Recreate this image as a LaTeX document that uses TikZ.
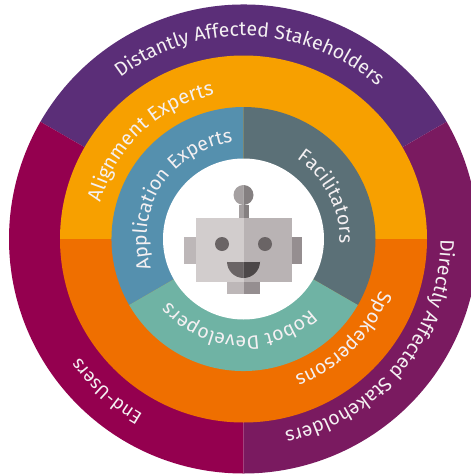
\documentclass[tikz,border=0pt]{standalone}
\usepackage{fontspec}
\setmainfont{Fira Sans}
\usetikzlibrary{decorations.text}
\definecolor{cpurple}{HTML}{5B2E78}
\definecolor{cmaroon}{HTML}{94004F}
\definecolor{cmagenta}{HTML}{7A1A60}
\definecolor{camber}{HTML}{F7A000}
\definecolor{corange}{HTML}{EF6F00}
\definecolor{cblue}{HTML}{5590AE}
\definecolor{cslate}{HTML}{5B7077}
\definecolor{cteal}{HTML}{6FB3A4}
\definecolor{ctext}{HTML}{F4F0F2}
\definecolor{rlight}{HTML}{D2CDCD}
\definecolor{rdark}{HTML}{B9B3B4}
\definecolor{rearl}{HTML}{BDB7B8}
\definecolor{reard}{HTML}{958E90}
\definecolor{rball}{HTML}{A5A0A1}
\definecolor{rballd}{HTML}{858081}
\definecolor{rface}{HTML}{6A6465}
\definecolor{rfaced}{HTML}{4C4748}
\newcommand{\sector}[4]{\fill[#1] (c) -- ++(#2:#4) arc (#2:#3:#4) -- cycle;}
% radius, centre angle, half span, text, size
\newcommand{\arclabel}[5]{\path[decorate,decoration={text along path,text align=center,
  text={|\fontsize{#5}{#5}\selectfont\color{ctext}|#4}}]
  (c) ++({#2-#3}:#1) arc ({#2-#3}:{#2+#3}:#1);}
\begin{document}
\begin{tikzpicture}[x=1pt,y=1pt,yscale=-1]
\useasboundingbox (0,0) rectangle (471,474);
\fill[white] (0,0) rectangle (471,474);
\clip (0,0) rectangle (471,474);
\coordinate (c) at (243.5,239);
% outer ring (y axis points down: angles are negated)
\sector{cpurple}{-150}{-30}{234.5}
\sector{cmaroon}{-270}{-150}{234.5}
\sector{cmagenta}{-30}{90}{234.5}
% middle ring
\sector{camber}{-180}{0}{183.5}
\sector{corange}{0}{180}{183.5}
% inner ring
\sector{cblue}{-210}{-90}{132}
\sector{cslate}{-90}{30}{132}
\sector{cteal}{30}{150}{132}
\fill[white] (c) circle[radius=80.5];
% robot
\fill[rball] (238.5,205) rectangle (243.5,219);
\fill[rballd] (243.5,205) rectangle (248.5,219);
\fill[rball] (243.5,185) arc (-90:-270:10) -- cycle;
\fill[rballd] (243.5,185) arc (-90:90:10) -- cycle;
\fill[rearl] (184,237) rectangle (196,264);
\fill[reard] (292,237) rectangle (302,264);
\fill[rearl] (227,282) rectangle (243.5,294);
\fill[reard] (243.5,282) rectangle (260,294);
\fill[rlight] (196,218) rectangle (243.5,282);
\fill[rdark] (243.5,218) rectangle (292,282);
\fill[rface] (222,244) circle[radius=7];
\fill[rface] (265,244) circle[radius=7];
\fill[rface] (227,262) -- (243.5,262) -- (243.5,278) arc (90:180:16.5) ;
\fill[rfaced] (260,262) -- (243.5,262) -- (243.5,278) arc (90:0:16.5);
% labels
\arclabel{203}{-88}{70}{Distantly Affected Stakeholders}{19.5}
\arclabel{147}{-133.5}{60}{Alignment Experts}{20}
\arclabel{97}{-147}{80}{Application Experts}{19.5}
\arclabel{96}{-27}{60}{Facilitators}{19.5}
\arclabel{146}{45}{60}{Spokepersons}{19.5}
\arclabel{97}{93}{80}{Robot Developers}{19.5}
\arclabel{202}{132}{40}{End-Users}{18.5}
\arclabel{197}{39}{70}{Directly Affected Stakeholders}{19.5}
\end{tikzpicture}
\end{document}
